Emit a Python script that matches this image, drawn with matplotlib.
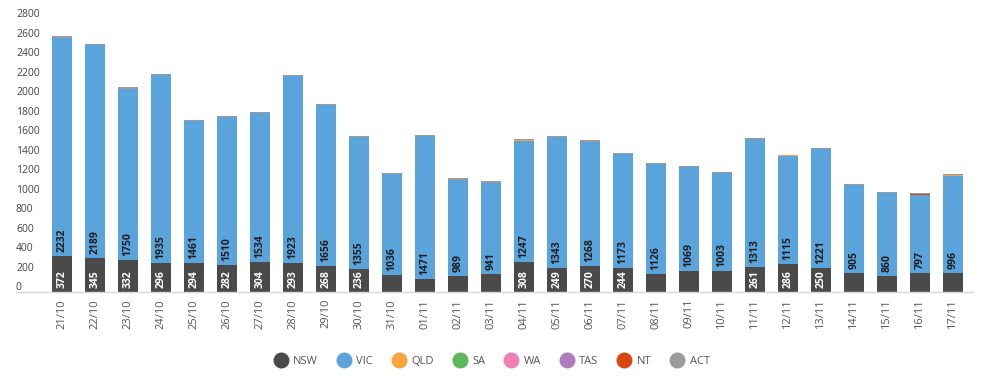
import matplotlib
matplotlib.use('Agg')
import matplotlib.pyplot as plt
import numpy as np
from matplotlib.lines import Line2D
from matplotlib.transforms import ScaledTranslation

plt.rcParams['font.family'] = ['Open Sans', 'DejaVu Sans']

dates = ['21/10', '22/10', '23/10', '24/10', '25/10', '26/10', '27/10', '28/10', '29/10', '30/10', '31/10',
         '01/11', '02/11', '03/11', '04/11', '05/11', '06/11', '07/11', '08/11', '09/11', '10/11',
         '11/11', '12/11', '13/11', '14/11', '15/11', '16/11', '17/11']
nsw = [372, 345, 332, 296, 294, 282, 304, 293, 268, 236, 175, 135, 165, 183, 308, 249, 270, 244,
       188, 212, 215, 261, 286, 250, 195, 160, 200, 200]
vic = [2232, 2189, 1750, 1935, 1461, 1510, 1534, 1923, 1656, 1355, 1036, 1471, 989, 941, 1247, 1343,
       1268, 1173, 1126, 1069, 1003, 1313, 1115, 1221, 905, 860, 797, 996]
qld = [0, 0, 0, 0, 0, 0, 0, 0, 0, 0, 0, 0, 0, 0, 1, 0, 0, 0, 0, 0, 0, 0, 6, 0, 0, 0, 3, 1]
sa = [0, 0, 0, 0, 0, 0, 0, 0, 0, 0, 0, 0, 0, 0, 0, 0, 0, 0, 0, 0, 0, 0, 0, 0, 0, 0, 0, 0]
wa = [0, 0, 0, 0, 0, 0, 0, 0, 0, 0, 0, 0, 0, 0, 0, 0, 0, 0, 0, 0, 0, 0, 0, 0, 0, 0, 0, 0]
tas = [0, 0, 0, 0, 0, 0, 0, 0, 0, 0, 0, 0, 0, 0, 0, 0, 0, 0, 0, 0, 0, 0, 0, 0, 0, 0, 0, 0]
nt = [0, 0, 0, 0, 0, 0, 0, 0, 0, 0, 0, 0, 0, 0, 0, 0, 0, 0, 0, 0, 0, 0, 0, 0, 0, 0, 6, 8]
act = [28, 13, 20, 10, 10, 14, 11, 13, 9, 10, 11, 6, 12, 14, 14, 9, 18, 11, 10, 13, 12, 8, 4, 7,
       8, 10, 9, 6]

states = ['NSW', 'VIC', 'QLD', 'SA', 'WA', 'TAS', 'NT', 'ACT']
series = [nsw, vic, qld, sa, wa, tas, nt, act]
colors = ['#4a4a4a', '#5ba3db', '#f9a43f', '#5cb85c', '#f07fb6', '#b07cbf', '#d9460e', '#9b9b9b']
yticks = [0, 200, 400, 600, 800, 1000, 1200, 1400, 1600, 1800, 2000, 2200, 2400, 2600, 2800]

fig = plt.figure(figsize=(9.84, 3.77), dpi=100)
ax = fig.add_axes([16 / 984, 85 / 377, 957 / 984, 272.7 / 377])

x = np.arange(len(dates))
bottom = np.zeros(len(dates))
for vals, c in zip(series, colors):
    ax.bar(x, vals, width=0.585, bottom=bottom, color=c, linewidth=0, zorder=2)
    bottom += np.array(vals)

# value labels (NSW only where it fits)
for i in range(len(dates)):
    if nsw[i] >= 230:
        ax.annotate(str(nsw[i]), (x[i], 0), xytext=(0, 4), textcoords='offset pixels',
                    rotation=90, ha='center', va='bottom', color='white',
                    fontsize=7.5, fontweight='bold')
    ax.annotate(str(vic[i]), (x[i], nsw[i]), xytext=(0, 4), textcoords='offset pixels',
                rotation=90, ha='center', va='bottom', color='#1e1e1e',
                fontsize=7.5, fontweight='bold')

ax.set_xlim(-1.394, len(dates) - 0.394)
ax.set_ylim(0, 2800)
ax.set_xticks(x)
ax.set_xticklabels(dates, rotation=90, fontsize=8, color='#555555')
ax.set_yticks(yticks)
ax.set_yticklabels([str(v) for v in yticks], fontsize=7.5, color='#444444', ha='left')
ax.tick_params(axis='both', length=0)
ax.tick_params(axis='y', pad=0)
ax.tick_params(axis='x', pad=5)
for lab in ax.get_yticklabels():
    lab.set_transform(lab.get_transform() + ScaledTranslation(0, 6 / 100, fig.dpi_scale_trans))

for s in ['top', 'right', 'left']:
    ax.spines[s].set_visible(False)
ax.spines['bottom'].set_color('#d9d9d9')
ax.spines['bottom'].set_linewidth(1)

handles = [Line2D([], [], marker='o', linestyle='', markersize=11.5, color=c, markeredgewidth=0)
           for c in colors]
fig.legend(handles, states, loc='center', bbox_to_anchor=(0.5, 1 - 361 / 377), ncol=8,
           frameon=False, fontsize=8, labelcolor='#555555', handletextpad=0.5,
           columnspacing=1.75, handlelength=1.2)

fig.savefig('out.png', dpi=100)
